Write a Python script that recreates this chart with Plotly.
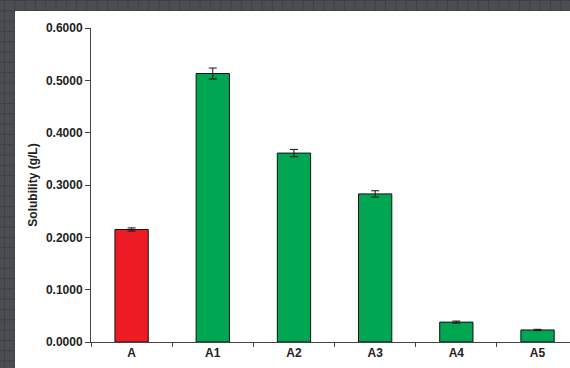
import plotly.graph_objects as go

categories = ["A", "A1", "A2", "A3", "A4", "A5"]
solubility = [0.215, 0.513, 0.361, 0.283, 0.038, 0.023]
errors = [0.003, 0.0105, 0.007, 0.006, 0.002, 0.0012]
bar_colors = ["#ED1C24", "#00A651", "#00A651", "#00A651", "#00A651", "#00A651"]
y_ticks = [0.0, 0.1, 0.2, 0.3, 0.4, 0.5, 0.6]
y_tick_labels = ["0.0000", "0.1000", "0.2000", "0.3000", "0.4000", "0.5000", "0.6000"]

W, H = 570, 368
L, R, T, B = 91, 0, 28, 26
pw, ph = W - L - R, H - T - B

def px_to_paper_x(px):
    return (px - L) / pw

def py_to_paper_y(py):
    return (H - B - py) / ph

fig = go.Figure()
fig.add_trace(go.Bar(
    x=categories, y=solubility,
    marker=dict(color=bar_colors, line=dict(color="#111111", width=1)),
    width=0.41,
    error_y=dict(type="data", array=errors, visible=True, color="#111111", thickness=1, width=4),
))

shapes = []
# dark grid pattern background lines
step = 10.3
x = 4.5
while x < W:
    shapes.append(dict(type="line", xref="paper", yref="paper",
                       x0=px_to_paper_x(x), x1=px_to_paper_x(x),
                       y0=py_to_paper_y(0), y1=py_to_paper_y(H),
                       line=dict(color="#3d4146", width=1), layer="below"))
    x += step
y = 0.5
while y < H:
    shapes.append(dict(type="line", xref="paper", yref="paper",
                       x0=px_to_paper_x(0), x1=px_to_paper_x(W),
                       y0=py_to_paper_y(y), y1=py_to_paper_y(y),
                       line=dict(color="#3d4146", width=1), layer="below"))
    y += step
# white chart panel
shapes.append(dict(type="rect", xref="paper", yref="paper",
                   x0=px_to_paper_x(15), x1=px_to_paper_x(W + 5),
                   y0=py_to_paper_y(H + 5), y1=py_to_paper_y(11),
                   fillcolor="white", line=dict(width=0), layer="below"))

fig.update_layout(
    width=W, height=H,
    margin=dict(l=L, r=R, t=T, b=B, pad=0),
    paper_bgcolor="#4a4e53",
    plot_bgcolor="rgba(0,0,0,0)",
    showlegend=False,
    shapes=shapes,
    font=dict(family="Liberation Sans, Arial", color="#222222"),
    xaxis=dict(
        range=[-0.5, 5.4],
        showline=True, linecolor="#444444", linewidth=1,
        ticks="outside", tickson="boundaries", ticklen=4, tickcolor="#444444",
        tickfont=dict(size=12, weight="bold", color="#222222"),
        showgrid=False, zeroline=False,
    ),
    yaxis=dict(
        range=[0, 0.6],
        tickvals=y_ticks, ticktext=y_tick_labels,
        showline=True, linecolor="#444444", linewidth=1,
        ticks="outside", ticklen=5, tickcolor="#444444",
        tickfont=dict(size=12, weight="bold", color="#222222"),
        showgrid=False, zeroline=False,
        title=dict(text="Solubility (g/L)", font=dict(size=12, weight="bold", color="#222222"), standoff=5),
    ),
)

fig.write_html("out.html")
